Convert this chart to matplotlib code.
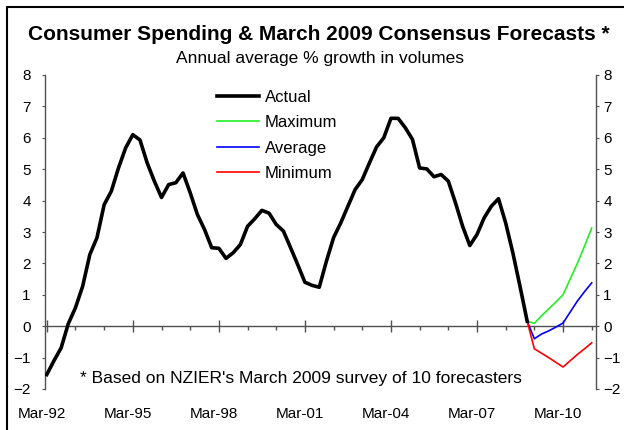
import matplotlib

matplotlib.use("Agg")

import matplotlib.pyplot as plt  # noqa: E402
import matplotlib.transforms as mtransforms  # noqa: E402
from matplotlib.lines import Line2D  # noqa: E402
from matplotlib.patches import Rectangle  # noqa: E402
import numpy as np  # noqa: E402

plt.rcParams["font.family"] = ["Liberation Sans", "DejaVu Sans"]

# quarterly, first point = Mar-92
actual = [
    -1.54, -1.1, -0.69, 0.08, 0.59, 1.27, 2.28, 2.82, 3.87, 4.3,
    5.04, 5.68, 6.1, 5.93, 5.2, 4.62, 4.1, 4.51, 4.57, 4.88,
    4.25, 3.56, 3.08, 2.5, 2.48, 2.16, 2.34, 2.6, 3.18, 3.42,
    3.69, 3.6, 3.24, 3.03, 2.5, 1.96, 1.4, 1.3, 1.24, 2.07,
    2.82, 3.29, 3.82, 4.35, 4.67, 5.2, 5.71, 6.0, 6.62, 6.62,
    6.32, 5.95, 5.04, 5.01, 4.76, 4.83, 4.62, 3.93, 3.18, 2.57,
    2.92, 3.45, 3.82, 4.06, 3.29, 2.34, 1.27, 0.16,
]
# forecasts Dec-08 (last actual) to Mar-11
fc_max = [0.16, 0.09, 0.33, 0.55, 0.77, 1.0, 1.5, 2.0, 2.55, 3.13]
fc_avg = [0.16, -0.4, -0.25, -0.15, -0.03, 0.1, 0.45, 0.8, 1.1, 1.38]
fc_min = [0.16, -0.72, -0.86, -1.0, -1.15, -1.3, -1.1, -0.9, -0.72, -0.53]

tick_labels = ["Mar-92", "Mar-95", "Mar-98", "Mar-01", "Mar-04", "Mar-07", "Mar-10"]
y_ticks = [-2, -1, 0, 1, 2, 3, 4, 5, 6, 7, 8]

W, H = 624, 430
fig = plt.figure(figsize=(W / 100, H / 100), dpi=100)
ax = fig.add_axes([45 / W, 1 - 389 / H, (596 - 45) / W, (389 - 75) / H])

x_act = np.arange(len(actual))
x_fc = np.arange(len(actual) - 1, len(actual) - 1 + len(fc_max))

ax.plot(x_act, actual, color="black", linewidth=2.6, solid_joinstyle="round", zorder=4)
ax.plot(x_fc, fc_max, color="#22f022", linewidth=1.2, zorder=3)
ax.plot(x_fc, fc_avg, color="#0000ff", linewidth=1.2, zorder=3)
ax.plot(x_fc, fc_min, color="#ff0000", linewidth=1.2, zorder=3)

axis_col = "#505050"
ax.set_xlim(-0.25, 76.6)
ax.set_ylim(-2, 8)
ax.set_yticks(y_ticks)
ax.tick_params(axis="y", direction="out", length=2.3, color=axis_col, labelsize=11, pad=3,
               left=True, right=True, labelleft=True, labelright=True)
left_shift = mtransforms.ScaledTranslation(-7 / 100, 0, fig.dpi_scale_trans)
for tick in ax.yaxis.get_major_ticks():
    tick.label1.set_transform(tick.label1.get_transform() + left_shift)
ax.spines["top"].set_visible(False)
ax.spines["bottom"].set_visible(False)
for side in ("left", "right"):
    ax.spines[side].set_color(axis_col)
    ax.spines[side].set_linewidth(1)

# month labels at bottom, ticks on the zero line
major_x = np.arange(len(tick_labels)) * 12
ax.set_xticks(major_x)
ax.set_xticklabels(tick_labels)
ax.tick_params(axis="x", length=0, labelsize=11, pad=13)
shift = mtransforms.ScaledTranslation(-5 / 100, 0, fig.dpi_scale_trans)
for lab in ax.get_xticklabels():
    lab.set_transform(lab.get_transform() + shift)

zero = ax.secondary_xaxis(0.2)
zero.set_xticks(major_x)
zero.set_xticks(np.arange(0, 77, 4), minor=True)
zero.tick_params(axis="x", which="major", direction="inout", length=9, color=axis_col, width=1,
                 labelbottom=False)
zero.tick_params(axis="x", which="minor", direction="out", length=3, color=axis_col, width=1)
zero.spines["bottom"].set_color(axis_col)
zero.spines["bottom"].set_linewidth(1)

handles = [
    Line2D([], [], color="black", linewidth=2.6),
    Line2D([], [], color="#22f022", linewidth=1.2),
    Line2D([], [], color="#0000ff", linewidth=1.2),
    Line2D([], [], color="#ff0000", linewidth=1.2),
]
ax.legend(handles, ["Actual", "Maximum", "Average", "Minimum"], loc="upper left",
          bbox_to_anchor=(217 / W, 1 - 90 / H), bbox_transform=fig.transFigure,
          frameon=False, fontsize=12, handlelength=2.5, handletextpad=0.36,
          labelspacing=0.62, borderpad=0, borderaxespad=0)

fig.text(319 / W, 1 - 34 / H, "Consumer Spending & March 2009 Consensus Forecasts *",
         ha="center", va="center", fontsize=15, fontweight="bold")
fig.text(320 / W, 1 - 59 / H, "Annual average % growth in volumes",
         ha="center", va="center", fontsize=12.5)
fig.text(301 / W, 1 - 378 / H, "* Based on NZIER's March 2009 survey of 10 forecasters",
         ha="center", va="center", fontsize=12.5)

fig.add_artist(Rectangle((7 / W, -0.1), 1.2, 1.1 - 7 / H, transform=fig.transFigure,
                         fill=False, edgecolor="black", linewidth=1.5))

fig.savefig("out.png", dpi=100)
plt.close(fig)
